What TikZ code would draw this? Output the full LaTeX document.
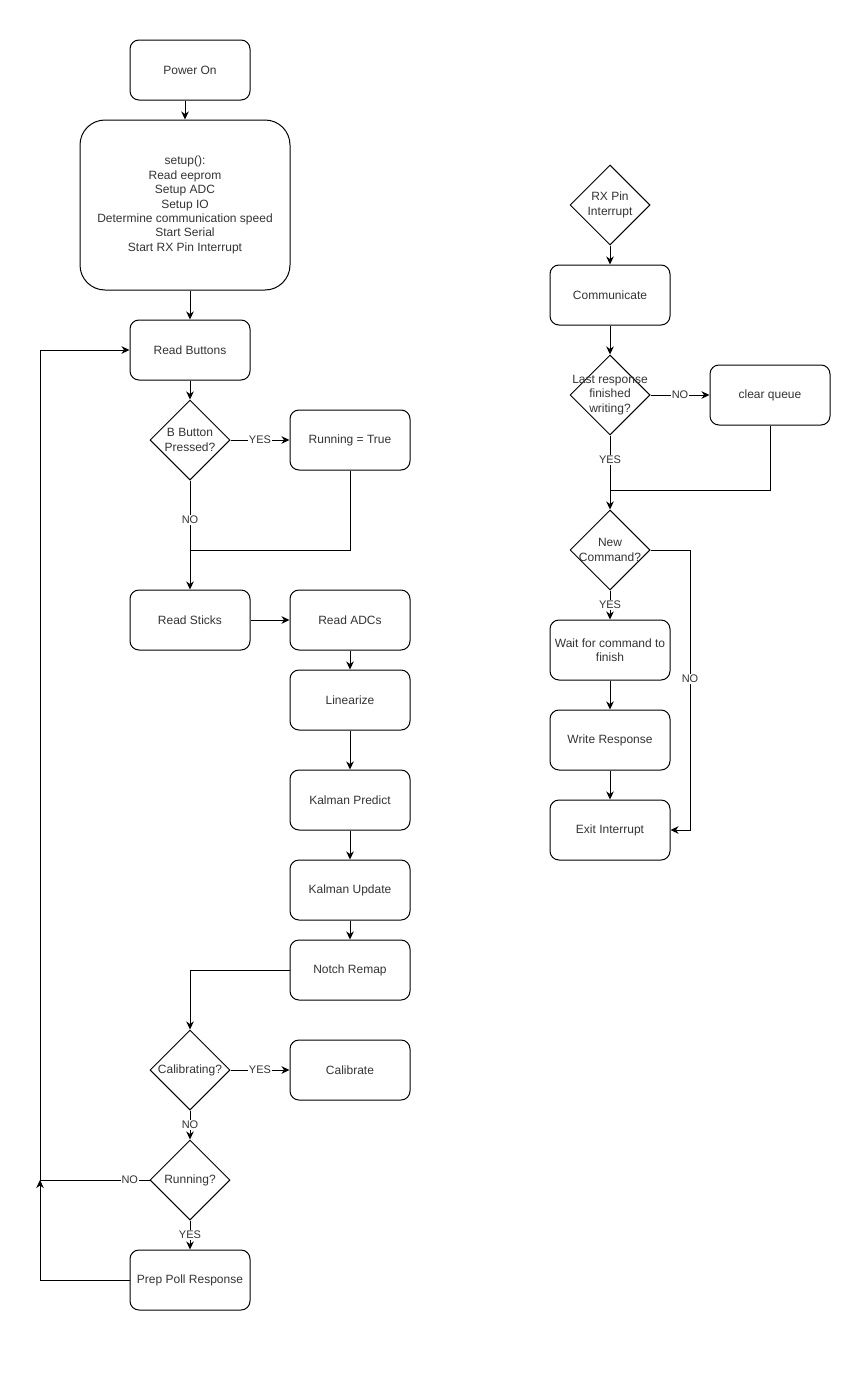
\documentclass[tikz,border=0pt]{standalone}
\usepackage{fontspec}
\setmainfont{Liberation Sans}
\usetikzlibrary{shapes.geometric, arrows.meta}

\begin{document}
\begin{tikzpicture}[x=1pt, y=-1pt, line width=1pt,
  font=\fontsize{12}{14.4}\selectfont, text=black!80,
  box/.style={draw=black, rounded corners=9pt, minimum width=120pt, minimum height=60pt, align=center, inner sep=2pt},
  ask/.style={draw=black, diamond, minimum width=80pt, minimum height=80pt, inner sep=0pt,
              label={[align=center, text=black!80]center:#1}},
  flow/.style={-{Stealth[length=8pt, width=7.5pt, inset=2.5pt]}},
  lbl/.style={fill=white, inner sep=1pt, font=\fontsize{11}{12}\selectfont}]
  \useasboundingbox (0,0) rectangle (850,1400);

  % main loop
  \node[box] (power) at (190,70) {Power On};
  \node[box, minimum width=210pt, minimum height=170pt, rounded corners=25pt] (setup) at (185,205)
       {setup():\\Read eeprom\\Setup ADC\\Setup IO\\Determine communication speed\\Start Serial\\Start RX Pin Interrupt};
  \node[box] (rbtn) at (190,350) {Read Buttons};
  \node[ask={B Button\\Pressed?}] (bpress) at (190,440) {};
  \node[box] (runtrue) at (350,440) {Running = True};
  \node[box] (sticks) at (190,620) {Read Sticks};
  \node[box] (adcs) at (350,620) {Read ADCs};
  \node[box] (lin) at (350,700) {Linearize};
  \node[box] (kpred) at (350,800) {Kalman Predict};
  \node[box] (kupd) at (350,890) {Kalman Update};
  \node[box] (notch) at (350,970) {Notch Remap};
  \node[ask={Calibrating?}] (calib) at (190,1070) {};
  \node[box] (calibrate) at (350,1070) {Calibrate};
  \node[ask={Running?}] (running) at (190,1180) {};
  \node[box] (prep) at (190,1280) {Prep Poll Response};
  \coordinate (join1) at (190,550);
  \coordinate (loop) at (40,1180);

  \draw[flow] (setup.north |- power.south) -- (setup.north);
  \draw[flow] (setup.south -| rbtn) -- (rbtn);
  \draw[flow] (rbtn) -- (bpress);
  \draw[flow] (bpress) -- node[lbl] {YES} (runtrue);
  \draw[flow] (bpress) -- node[lbl, pos=0.36] {NO} (sticks);
  \draw (runtrue) |- (join1);
  \draw[flow] (sticks) -- (adcs);
  \draw[flow] (adcs) -- (lin);
  \draw[flow] (lin) -- (kpred);
  \draw[flow] (kpred) -- (kupd);
  \draw[flow] (kupd) -- (notch);
  \draw[flow] (notch.west) -| (calib.north);
  \draw[flow] (calib) -- node[lbl] {YES} (calibrate);
  \draw[flow] (calib) -- node[lbl] {NO} (running);
  \draw[flow] (running) -- node[lbl] {YES} (prep);
  \draw[flow] (running.west) -- node[lbl, pos=0.18] {NO} (loop) |- (rbtn.west);
  \draw[flow] (prep.west) -| (loop);

  % interrupt
  \node[ask={RX Pin\\Interrupt}] (rx) at (610,205) {};
  \node[box] (comm) at (610,295) {Communicate};
  \node[ask={Last response\\finished\\writing?}] (last) at (610,395) {};
  \node[box] (clear) at (770,395) {clear queue};
  \node[ask={New\\Command?}] (newcmd) at (610,550) {};
  \node[box] (wait) at (610,650) {Wait for command to\\finish};
  \node[box] (write) at (610,740) {Write Response};
  \node[box] (exit) at (610,830) {Exit Interrupt};
  \coordinate (join2) at (610,490);
  \coordinate (nobend) at (690,550);

  \draw[flow] (rx) -- (comm);
  \draw[flow] (comm) -- (last);
  \draw[flow] (last) -- node[lbl] {NO} (clear);
  \draw[flow] (last) -- node[lbl, pos=0.33] {YES} (newcmd);
  \draw (clear) |- (join2);
  \draw[flow] (newcmd) -- node[lbl] {YES} (wait);
  \draw[flow] (wait) -- (write);
  \draw[flow] (write) -- (exit);
  \draw[flow] (newcmd.east) -- (nobend) |- node[lbl, pos=0.23] {NO} (exit.east);
\end{tikzpicture}
\end{document}
